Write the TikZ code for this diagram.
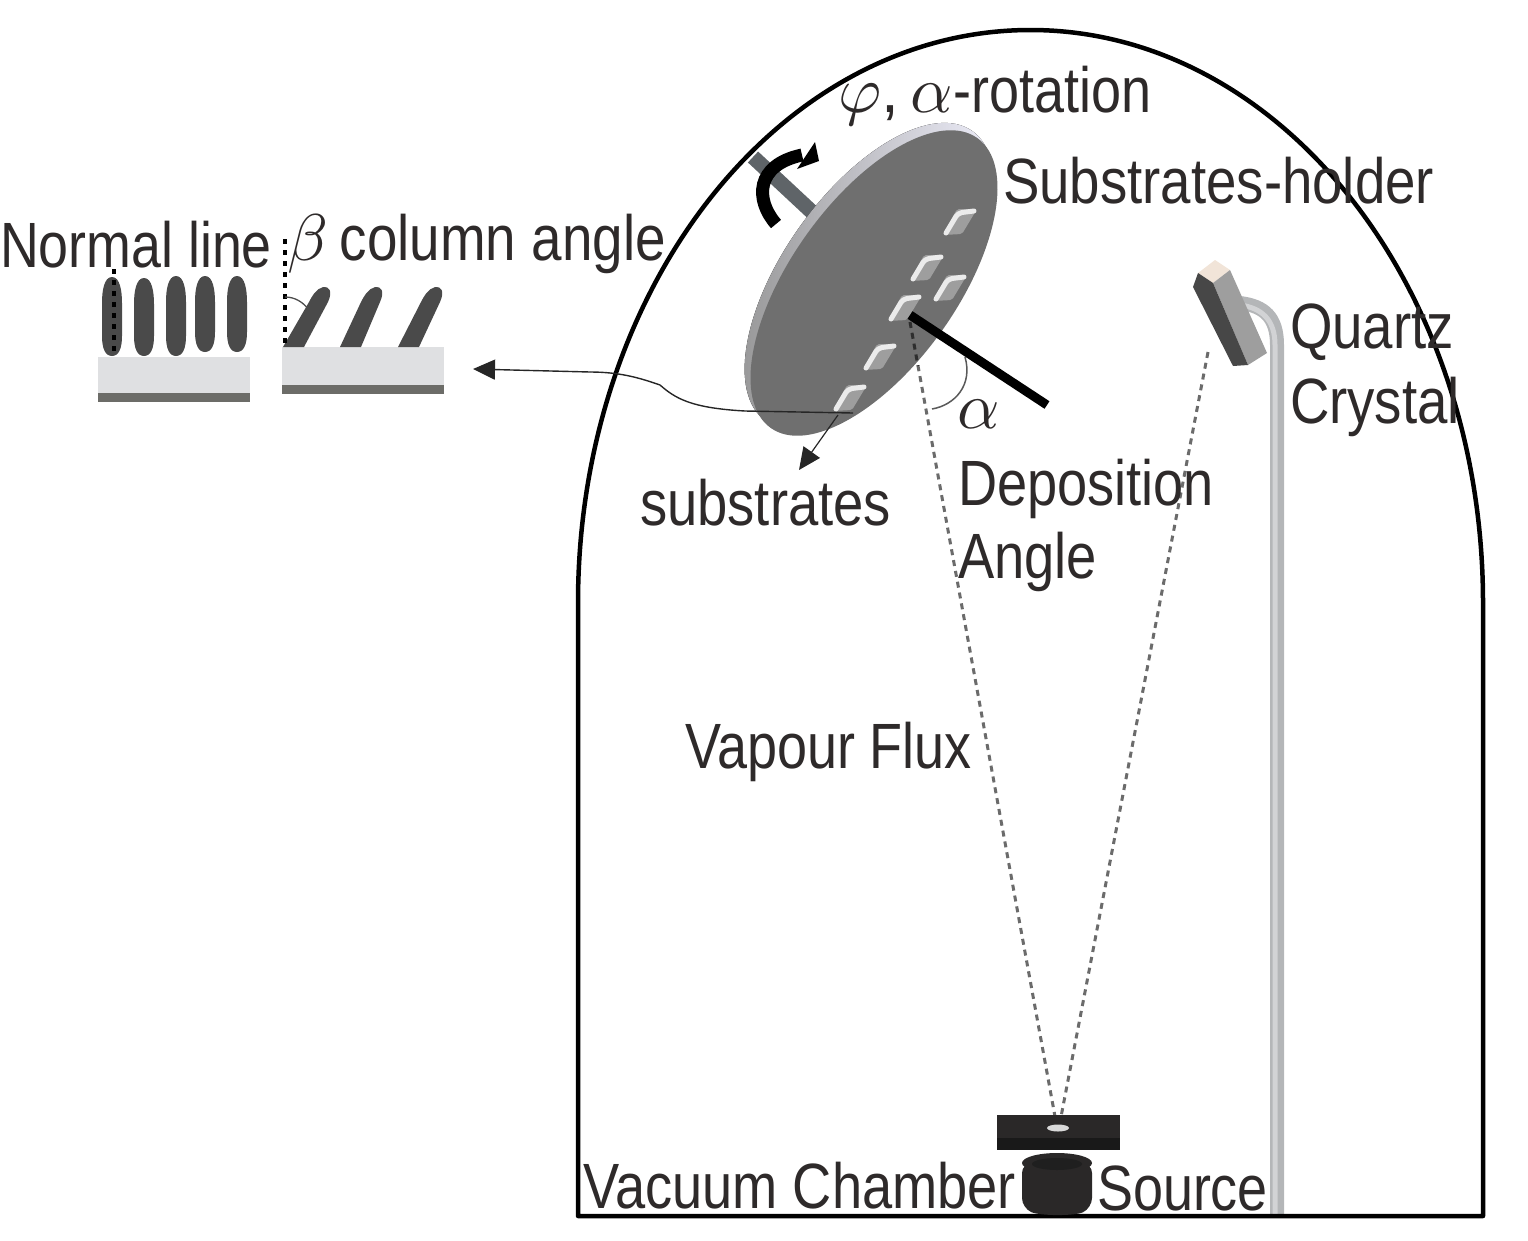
\documentclass[tikz,border=0pt]{standalone}
\usepackage{graphicx}
\usepackage{fontspec}
\setmainfont{Liberation Sans}
\usetikzlibrary{arrows.meta}
\definecolor{ink}{HTML}{2E2A2A}
\definecolor{face}{HTML}{6F6F6F}
\definecolor{slab}{HTML}{DFE0E2}
\definecolor{slabdark}{HTML}{6C6C68}
\definecolor{col}{HTML}{4A4A4A}
\definecolor{pipe}{HTML}{B4B6B8}
\definecolor{pipelight}{HTML}{D2D3D5}
\definecolor{axle}{HTML}{5F6468}
\definecolor{oven}{HTML}{2A2828}
\newcommand\wt[2]{\resizebox{#1pt}{\height}{#2}}
\newcommand\mth[1]{\scalebox{6.6}{\fontsize{10}{12}\selectfont$#1$}}
\tikzset{
  x=1pt,y=-1pt,
  lab/.style={anchor=base west,inner sep=0pt,outer sep=0pt,text=ink,font=\fontsize{64}{70}\selectfont},
  chamber/.style={line width=4.5pt,black},
  flux/.style={line width=3pt,draw=black!58,dash pattern=on 6pt off 5pt},
  dots/.style={line width=4.5pt,black,dash pattern=on 4.5pt off 6.5pt},
  thin arrow/.style={line width=1.4pt,draw=black!85,-{Triangle[length=22pt,width=20pt]}},
  tilted/.style={fill=col},
  tile/.style={fill=black!38},
  tile edge/.style={draw=white!92!black,line width=5pt,line cap=round,line join=round},
}
\newcommand\tileat[2]{%
  \fill[tile,rounded corners=2pt] (#1+17,#2-13) -- (#1-3,#2-13) -- (#1-17,#2+13) -- (#1+2,#2+12) -- cycle;
  \draw[tile edge,rounded corners=4pt] (#1+14,#2-11) -- (#1-2,#2-9) -- (#1-14,#2+11);
}
\newcommand\columnat[3]{%
  \fill[col] (#1,#2) .. controls (#1+8,#2) and (#1+10,#2+14) .. (#1+10,#2+26)
    -- (#1+10,#3-20) .. controls (#1+10,#3-8) and (#1+7,#3) .. (#1,#3)
    .. controls (#1-7,#3) and (#1-10,#3-8) .. (#1-10,#3-20)
    -- (#1-10,#2+26) .. controls (#1-10,#2+14) and (#1-8,#2) .. (#1,#2) -- cycle;
}
\newcommand\tiltedat[2]{%
  \fill[tilted] (#1,347) -- (#1+21,347) -- (#1+#2-2,302) .. controls (#1+#2+3,291) and (#1+#2-1,286) .. (#1+#2-7,287)
    .. controls (#1+#2-14,289) and (#1+#2-18,296) .. (#1+#2-21,302) -- cycle;
}
\begin{document}
\begin{tikzpicture}
\useasboundingbox (0,0) rectangle (1528,1240);
% coordinates
\coordinate (normalStart) at (910,315);
\coordinate (normalEnd) at (1047,405);
\coordinate (fluxA) at (910,322);
\coordinate (fluxE) at (918,366);
\coordinate (fluxB) at (1208,352);
\coordinate (fluxC) at (1056,1122);
\coordinate (fluxD) at (1060,1122);
\coordinate (holderLeft) at (853,413);
\coordinate (tip) at (473,369);
\coordinate (subsStart) at (838,415);
\coordinate (subsTip) at (799,470);
% quartz pipe
\draw[line width=14pt,pipe,line cap=butt] (1277,1214) -- (1277,345) .. controls (1277,317) and (1264,306) .. (1240,303);
\draw[line width=5pt,pipelight,line cap=butt] (1275,1214) -- (1275,345) .. controls (1275,320) and (1262,308) .. (1240,305);
% chamber
\draw[chamber,line join=round] (578,1216) -- (578,603) arc[start angle=180,end angle=0,x radius=452.5pt,y radius=573pt] -- (1483,1216) -- cycle;
% crystal
\fill[black!6!white!90!orange] (1198,273) -- (1215,260) -- (1230,270) -- (1213,283) -- cycle;
\fill[black!38] (1213,283) -- (1230,270) -- (1267,353) -- (1248,365) -- cycle;
\fill[black!72] (1193,287) -- (1198,273) -- (1213,283) -- (1248,365) -- (1233,366) -- cycle;
% axle
\draw[line width=15pt,axle] (753,157) -- (812,212);
% holder
\fill[left color=black!42,right color=white!95!blue,rotate around={54.5:(869,276)}] (869,276) ellipse [x radius=178pt,y radius=85pt];
\fill[face,rotate around={54.5:(874,283)}] (874,283) ellipse [x radius=178pt,y radius=83pt];
% curved arrow
\draw[line width=13pt,black] (776,224) .. controls (755,200) and (755,165) .. (802,155);
\fill[black] (815,142) -- (819,161) -- (797,169) -- cycle;
% tiles
\tileat{960}{222}
\tileat{927}{268}
\tileat{950}{288}
\tileat{905}{308}
\tileat{880}{357}
\tileat{850}{398}
% flux
\draw[flux] (fluxA) -- (fluxC);
\draw[flux] (fluxB) -- (fluxD);
\draw[flux,draw=black!82] (fluxA) -- (fluxE);
% normal
\draw[line width=9pt,black] (normalStart) -- (normalEnd);
% alpha arc
\draw[line width=1.5pt,black!65] (965,357) .. controls (973,385) and (955,405) .. (932,409);
% thin arrows
\draw[line width=1.4pt,black!85] (holderLeft) -- (745,411) .. controls (690,408) and (675,398) .. (660,385) .. controls (640,378) and (620,372) .. (590,372);
\draw[thin arrow] (590,372) -- (tip);
\draw[thin arrow,line width=1.2pt] (subsStart) -- (subsTip);
% source
\fill[oven] (997,1115) rectangle (1120,1150);
\fill[black!90] (997,1138) rectangle (1120,1150);
\fill[white!85!black] (1058,1128) ellipse [x radius=11pt,y radius=3.5pt];
\fill[oven,rounded corners=10pt] (1022,1163) -- (1022,1208) .. controls (1040,1216) and (1075,1216) .. (1092,1208) -- (1092,1163) -- cycle;
\fill[oven] (1057,1163) ellipse [x radius=35pt,y radius=10pt];
\fill[black!88] (1057,1164) ellipse [x radius=25pt,y radius=6pt];
% left sample
\fill[slab] (98,357) rectangle (250,393);
\fill[slabdark] (98,393) rectangle (250,402);
\columnat{112}{277}{356}
\columnat{144}{278}{356}
\columnat{176}{276}{356}
\columnat{205}{276}{352}
\columnat{237}{276}{352}
\draw[dots] (114,269) -- (114,354);
% right sample
\fill[slab] (282,347) rectangle (444,385);
\fill[slabdark] (282,385) rectangle (444,394);
\tiltedat{283}{47}
\tiltedat{340}{42}
\tiltedat{398}{44}
\draw[dots] (285,239) -- (285,345);
\draw[line width=1.3pt,black!70] (285,297) .. controls (295,297) and (303,302) .. (309,310);
% labels
\node[lab] (rot) at (838,112) {\mth{\varphi},\hspace{12pt}\mth{\alpha}\wt{198}{-rotation}};
\node[lab] (holder) at (1003,203) {\wt{431}{Substrates-holder}};
\node[lab] (normal) at (0,267) {\wt{272}{Normal line}};
\node[lab] (beta) at (287,260) {\mth{\beta}\hspace{12pt}\wt{326}{column angle}};
\node[lab] (q1) at (1290,348) {\wt{164}{Quartz}};
\node[lab] (q2) at (1290,423) {\wt{170}{Crystal}};
\node[lab] (alpha) at (957,428) {\mth{\alpha}};
\node[lab] (dep) at (958,505) {\wt{256}{Deposition}};
\node[lab] (ang) at (958,578) {\wt{139}{Angle}};
\node[lab] (subs) at (640,525) {\wt{251}{substrates}};
\node[lab] (flux) at (685,768) {\wt{287}{Vapour Flux}};
\node[lab] (vac) at (583,1208) {\wt{433}{Vacuum Chamber}};
\node[lab] (src) at (1097,1210) {\wt{171}{Source}};
\end{tikzpicture}
\end{document}
